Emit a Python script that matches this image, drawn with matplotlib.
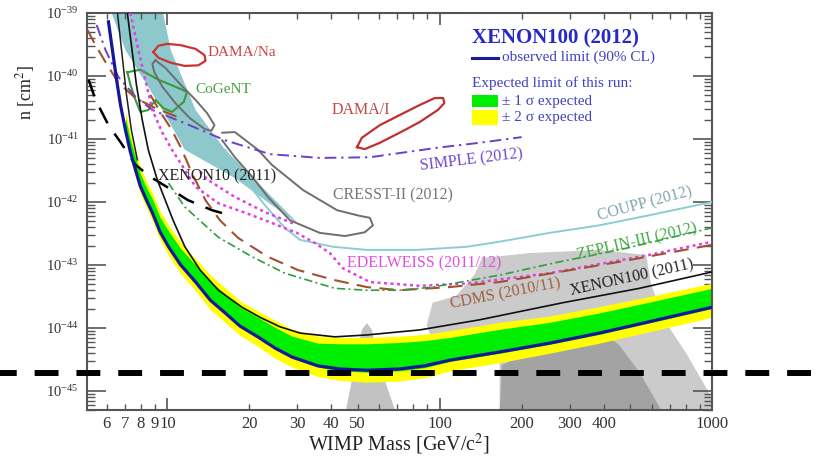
import numpy as np
import matplotlib
matplotlib.use("Agg")
import matplotlib.pyplot as plt
from matplotlib import ticker
from matplotlib.patches import Rectangle

plt.rcParams['font.family'] = ['Liberation Serif', 'DejaVu Serif']
plt.rcParams['mathtext.fontset'] = 'stix'

# ---------------- data (WIMP mass in GeV/c^2, log10 of cross-section in cm^2) ----------------
# XENON100 (2012) observed 90% CL limit
x12_mass = [6.08, 6.30, 6.51, 6.73, 7.02, 7.32, 7.64, 7.96, 8.38, 8.81, 9.42, 10.1, 11.2, 12.7, 14.4,
            16.3, 18.5, 21.5, 24.9, 28.7, 35.7, 43.0, 54.0, 71.3, 88.1, 109, 166, 253, 386, 588, 1000]
x12_logsig = [-39.14, -39.62, -40.06, -40.46, -40.86, -41.21, -41.49, -41.75, -41.97, -42.17, -42.48,
              -42.71, -43.00, -43.27, -43.56, -43.76, -43.97, -44.14, -44.32, -44.46, -44.60, -44.65,
              -44.67, -44.65, -44.60, -44.51, -44.38, -44.24, -44.08, -43.90, -43.67]

# expected sensitivity bands
band_mass = [7.02, 7.32, 7.64, 7.96, 8.38, 8.81, 9.42, 10.1, 11.2, 12.7, 14.4, 16.3, 18.5, 21.5,
             24.9, 28.7, 35.7, 43.0, 54.0, 71.3, 88.1, 109, 166, 253, 386, 588, 1000]
band_2sig_lo = [-40.98, -41.33, -41.61, -41.87, -42.09, -42.30, -42.61, -42.85, -43.14, -43.41, -43.71,
                -43.91, -44.12, -44.29, -44.48, -44.62, -44.77, -44.83, -44.86, -44.84, -44.79, -44.68,
                -44.55, -44.40, -44.24, -44.06, -43.83]
band_1sig_lo = [-40.88, -41.23, -41.51, -41.77, -41.99, -42.19, -42.50, -42.73, -43.02, -43.29, -43.58,
                -43.78, -43.99, -44.16, -44.34, -44.48, -44.62, -44.68, -44.70, -44.68, -44.63, -44.53,
                -44.40, -44.26, -44.10, -43.92, -43.69]
band_1sig_hi = [-40.66, -41.01, -41.29, -41.55, -41.77, -41.95, -42.25, -42.46, -42.74, -43.00, -43.26,
                -43.46, -43.67, -43.83, -43.99, -44.13, -44.24, -44.25, -44.25, -44.23, -44.20, -44.15,
                -44.02, -43.91, -43.76, -43.59, -43.37]
band_2sig_hi = [-40.56, -40.91, -41.19, -41.45, -41.67, -41.85, -42.15, -42.36, -42.64, -42.90, -43.16,
                -43.36, -43.57, -43.73, -43.88, -44.02, -44.13, -44.15, -44.15, -44.13, -44.10, -44.04,
                -43.91, -43.81, -43.66, -43.50, -43.29]

# XENON100 (2011)
x11_mass = [7.13, 7.38, 7.70, 8.09, 8.51, 9.19, 10.5, 11.6, 13.2, 15.4, 18.8, 21.9, 25.9, 30.7, 41.2,
            54.0, 84.5, 140, 282, 541, 1000]
x11_logsig = [-39.00, -39.51, -40.14, -40.70, -41.17, -41.65, -42.29, -42.71, -43.08, -43.40, -43.67,
              -43.83, -43.98, -44.08, -44.14, -44.11, -44.03, -43.87, -43.60, -43.37, -43.11]
# additional black low-mass curve
lowx_mass = [6.56, 6.79, 7.08, 7.38, 7.76]
lowx_logsig = [-39.00, -39.59, -40.30, -40.86, -41.33]

# XENON10 (2011)
x10_mass = [5.14, 5.45, 6.08, 6.73, 7.64, 8.66, 10.4, 11.9, 14.6, 17.3]
x10_logsig = [-40.06, -40.38, -40.78, -41.05, -41.41, -41.60, -41.81, -41.97, -42.13, -42.22]

# SIMPLE (2012)
simple_mass = [5.50, 5.93, 6.62, 7.64, 8.81, 11.6, 16.3, 23.8, 36.3, 55.4, 97.5, 140, 200]
simple_logsig = [-39.19, -39.59, -40.02, -40.33, -40.54, -40.75, -41.02, -41.24, -41.30, -41.29,
                 -41.14, -41.06, -40.97]

# EDELWEISS (2011/12)
edw_mass = [7.32, 7.76, 8.30, 8.81, 9.59, 10.4, 11.6, 12.7, 15.4, 19.3, 23.8, 29.9, 34.8, 39.5, 44.1,
            55.4, 84.5, 129, 253, 588, 1000]
edw_logsig = [-39.00, -39.51, -40.06, -40.54, -40.90, -41.17, -41.49, -41.76, -42.02, -42.17, -42.32,
              -42.49, -42.65, -42.81, -43.05, -43.27, -43.33, -43.29, -43.13, -42.84, -42.63]
edw_lm_mass = [13.2, 14.1, 17.7, 22.8, 29.4]
edw_lm_logsig = [-41.52, -41.65, -41.92, -42.16, -42.35]

# CDMS (2010/11)
cdms_le_mass = [5.09, 5.45, 5.93, 6.62, 7.64, 9.04, 11.2]
cdms_le_logsig = [-39.27, -39.51, -39.78, -40.11, -40.35, -40.51, -40.67]
cdms_mass = [8.66, 9.42, 10.3, 11.2, 12.4, 13.8, 15.6, 18.2, 23.4, 30.2, 41.2, 54.0, 71.3, 109, 166,
             275, 456, 1000]
cdms_logsig = [-40.30, -40.57, -40.83, -41.13, -41.57, -41.97, -42.29, -42.57, -42.87, -43.08, -43.24,
               -43.35, -43.40, -43.35, -43.27, -43.11, -42.95, -42.68]

# ZEPLIN-III (2012)
zep_mass = [10.1, 11.6, 15.4, 20.5, 27.0, 41.2, 54.0, 71.3, 94.2, 166, 275, 456, 1000]
zep_logsig = [-41.70, -42.08, -42.56, -42.87, -43.13, -43.37, -43.40, -43.40, -43.35, -43.16, -42.95,
              -42.76, -42.41]

# COUPP (2012)
coupp_mass = [16.3, 19.3, 22.8, 27.0, 30.7, 40.5, 54.0, 82.4, 126, 166, 253, 386, 588, 1000]
coupp_logsig = [-41.17, -41.65, -42.05, -42.41, -42.60, -42.71, -42.76, -42.76, -42.71, -42.63,
                -42.49, -42.37, -42.21, -42.00]

# teal shaded region
teal_mass = [6.18, 9.59, 10.3, 12.7, 16.3, 21.0, 30.7, 22.8, 17.7, 11.6, 9.59, 7.02]
teal_logsig = [-38.95, -38.95, -39.59, -40.54, -41.17, -41.65, -42.37, -41.97, -41.62, -41.17,
               -40.54, -39.59]

# DAMA/Na contour
damana_mass = [8.89, 9.27, 10.0, 11.2, 12.7, 13.7, 13.8, 13.0, 11.6, 10.3, 9.27]
damana_logsig = [-39.62, -39.52, -39.49, -39.51, -39.57, -39.67, -39.76, -39.83, -39.84, -39.79, -39.71]

# DAMA/I contour
damai_mass = [49.7, 51.8, 60.3, 71.3, 84.5, 95.9, 103, 104, 98.4, 84.5, 71.3, 60.3, 53.1]
damai_logsig = [-41.13, -40.98, -40.78, -40.62, -40.46, -40.35, -40.35, -40.43, -40.54, -40.73,
                -40.90, -41.06, -41.16]

# CoGeNT contour
cogent_mass = [7.13, 7.96, 9.27, 10.3, 11.8, 11.5, 10.4, 9.67, 9.04, 8.51, 7.96, 7.64, 7.32]
cogent_logsig = [-39.94, -39.90, -40.06, -40.14, -40.25, -40.41, -40.57, -40.51, -40.38, -40.54,
                 -40.57, -40.38, -40.14]

# CRESST-II (2012) contours
cresst1_mass = [9.04, 9.83, 11.2, 12.7, 14.0, 14.9, 14.5, 13.7, 12.1, 10.7, 9.59, 8.96, 8.81]
cresst1_logsig = [-39.75, -39.87, -40.14, -40.38, -40.59, -40.78, -40.87, -40.84, -40.67, -40.43,
                  -40.17, -39.94, -39.81]
cresst2_mass = [15.9, 17.7, 21.5, 24.2, 31.5, 42.0, 50.9, 55.4, 56.9, 53.1, 44.9, 36.3, 28.2, 23.4,
                20.5, 17.7, 15.9]
cresst2_logsig = [-40.90, -40.89, -41.17, -41.41, -41.81, -42.13, -42.22, -42.25, -42.37, -42.48,
                  -42.54, -42.49, -42.29, -41.92, -41.60, -41.29, -41.02]

# CMSSM expectation regions (gray)
cmssm_light_mass = [89.6, 94.2, 115, 134, 143, 214, 386, 573, 598, 679, 804, 1000, 1000, 166, 166, 100]
cmssm_light_logsig = [-43.95, -43.60, -43.49, -43.16, -42.89, -42.81, -42.76, -42.84, -43.32, -43.92,
                      -44.40, -45.11, -45.38, -45.38, -44.54, -44.54]
cmssm_dark_mass = [166, 169, 214, 386, 456, 541, 667]
cmssm_dark_logsig = [-45.38, -44.59, -44.38, -44.03, -44.27, -44.70, -45.38]
cmssm_spike_mass = [44.9, 47.6, 50.1, 51.8, 54.0, 56.4, 58.3, 62.9, 69.5]
cmssm_spike_logsig = [-45.38, -44.83, -44.35, -44.03, -43.92, -44.03, -44.35, -44.83, -45.38]

ref_sigma = 1.93e-45   # dashed reference level

y_decades = [1e-45, 1e-44, 1e-43, 1e-42, 1e-41, 1e-40, 1e-39]
x_labeled_minor = [6, 7, 8, 9, 20, 30, 40, 50, 200, 300, 400]


def S(a):
    return 10.0 ** np.asarray(a, dtype=float)


def closed(m, s):
    m = list(m) + [m[0]]
    s = list(s) + [s[0]]
    return m, S(s)


fig = plt.figure(figsize=(8.18, 4.62), dpi=100)
ax = fig.add_axes([87 / 818, 52 / 462, 625 / 818, 397 / 462])
ax.set_xscale('log')
ax.set_yscale('log')

# shaded regions
ax.fill(cmssm_light_mass, S(cmssm_light_logsig), color='#cbcbcb', lw=0, zorder=1)
ax.fill(cmssm_dark_mass, S(cmssm_dark_logsig), color='#a3a3a3', lw=0, zorder=1.1)
ax.fill(cmssm_spike_mass, S(cmssm_spike_logsig), color='#c2c2c2', lw=0, zorder=1)
ax.fill(teal_mass, S(teal_logsig), color='#8cc8cc', lw=0, zorder=1)

# expected bands
ax.fill_between(band_mass, S(band_2sig_lo), S(band_2sig_hi), color='#ffff00', lw=0, zorder=2)
ax.fill_between(band_mass, S(band_1sig_lo), S(band_1sig_hi), color='#00ee00', lw=0, zorder=2.1)

# contours
m, s = closed(damana_mass, damana_logsig)
ax.plot(m, s, color='#cc3333', lw=1.6, zorder=3)
m, s = closed(damai_mass, damai_logsig)
ax.plot(m, s, color='#c03030', lw=1.6, zorder=3)
m, s = closed(cogent_mass, cogent_logsig)
ax.plot(m, s, color='#3a9a3a', lw=1.5, zorder=3)
m, s = closed(cresst1_mass, cresst1_logsig)
ax.plot(m, s, color='#6e6e6e', lw=1.4, zorder=3)
ax.plot(cresst2_mass, S(cresst2_logsig), color='#6e6e6e', lw=1.4, zorder=3)

# exclusion curves
ax.plot(coupp_mass, S(coupp_logsig), color='#8ccdd1', lw=1.4, zorder=3)
ax.plot(simple_mass, S(simple_logsig), color='#6a40cc', lw=1.4, ls=(0, (6, 2.5, 1.2, 2.5)), zorder=3)
ax.plot(edw_mass, S(edw_logsig), color='#e040e0', lw=1.8, ls=(0, (1.2, 1.4)), zorder=3)
ax.plot(edw_lm_mass, S(edw_lm_logsig), color='#e040e0', lw=1.8, ls=(0, (1.2, 1.4)), zorder=3)
ax.plot(cdms_le_mass, S(cdms_le_logsig), color='#a0522d', lw=1.5, ls=(0, (7, 4)), zorder=3)
ax.plot(cdms_mass, S(cdms_logsig), color='#a0522d', lw=1.5, ls=(0, (7, 4)), zorder=3)
ax.plot(zep_mass, S(zep_logsig), color='#2e9e3e', lw=1.2, ls=(0, (5, 2, 1.2, 2)), zorder=3)
ax.plot(x10_mass, S(x10_logsig), color='black', lw=1.8, ls=(0, (7, 5)), zorder=3)
ax.plot(lowx_mass, S(lowx_logsig), color='#202020', lw=1.1, zorder=3)
ax.plot(x11_mass, S(x11_logsig), color='#111111', lw=1.2, zorder=3)
ax.plot(x12_mass, S(x12_logsig), color='#16169a', lw=2.3, zorder=4)

# labels
ax.text(14.1, S(-39.62), 'DAMA/Na', color='#cc4444', fontsize=11, ha='left', va='center', zorder=5)
ax.text(12.7, S(-40.22), 'CoGeNT', color='#44a044', fontsize=11, ha='left', va='center', zorder=5)
ax.text(51.4, S(-40.54), 'DAMA/I', color='#c04848', fontsize=11.5, ha='center', va='center', zorder=5)
ax.text(131, S(-41.33), 'SIMPLE (2012)', color='#7048d0', fontsize=11.5, ha='center', va='center',
        rotation=7, rotation_mode='anchor', zorder=5)
ax.text(67.3, S(-41.90), 'CRESST-II (2012)', color='#777777', fontsize=11.5, ha='center', va='center', zorder=5)
ax.text(15.2, S(-41.60), 'XENON10 (2011)', color='#222222', fontsize=11.5, ha='center', va='center', zorder=5)
ax.text(569, S(-42.03), 'COUPP (2012)', color='#7fa6ad', fontsize=11.5, ha='center', va='center',
        rotation=15, rotation_mode='anchor', zorder=5)
ax.text(531, S(-42.63), 'ZEPLIN-III (2012)', color='#44aa44', fontsize=11.5, ha='center', va='center',
        rotation=13, rotation_mode='anchor', zorder=5)
ax.text(88.1, S(-42.98), 'EDELWEISS (2011/12)', color='#e050e0', fontsize=11.5, ha='center', va='center', zorder=5)
ax.text(175, S(-43.46), 'CDMS (2010/11)', color='#a06040', fontsize=11.5, ha='center', va='center',
        rotation=11, rotation_mode='anchor', zorder=5)
ax.text(509, S(-43.21), 'XENON100 (2011)', color='#222222', fontsize=11.5, ha='center', va='center',
        rotation=12.5, rotation_mode='anchor', zorder=5)

# legend block
tr = ax.transAxes
ax.text(0.616, 0.937, 'XENON100 (2012)', transform=tr, fontsize=15, fontweight='bold',
        color='#2828c8', ha='left', va='center', zorder=6)
ax.plot([0.616, 0.658], [0.887, 0.887], transform=tr, color='#1a1a9a', lw=2.2, zorder=6)
ax.text(0.664, 0.889, 'observed limit (90% CL)', transform=tr, fontsize=11, color='#4040c0',
        ha='left', va='center', zorder=6)
ax.text(0.616, 0.824, 'Expected limit of this run:', transform=tr, fontsize=11, color='#4040c0',
        ha='left', va='center', zorder=6)
ax.add_patch(Rectangle((0.616, 0.763), 0.042, 0.031, transform=tr, color='#00ee00', lw=0, zorder=6))
ax.add_patch(Rectangle((0.616, 0.718), 0.042, 0.038, transform=tr, color='#ffff00', lw=0, zorder=6))
ax.text(0.664, 0.778, '± 1 σ expected', transform=tr, fontsize=11, color='#4040c0',
        ha='left', va='center', zorder=6)
ax.text(0.664, 0.738, '± 2 σ expected', transform=tr, fontsize=11, color='#4040c0',
        ha='left', va='center', zorder=6)

# thick dashed reference line across the whole figure
ax.axhline(ref_sigma, xmin=-0.139, xmax=1.17, color='black', lw=4.3, ls=(1.2, (4, 3)),
           clip_on=False, zorder=10)

# axes
ax.set_xlim(5.07, 1000)
ax.set_ylim(5.0e-46, 1e-39)

ax.xaxis.set_major_locator(ticker.LogLocator(base=10, numticks=20))
ax.xaxis.set_minor_locator(ticker.LogLocator(base=10, subs=np.arange(2, 10), numticks=20))
ax.xaxis.set_major_formatter(ticker.FuncFormatter(lambda v, p: f'{v:g}'))
ax.xaxis.set_minor_formatter(ticker.FuncFormatter(
    lambda v, p: f'{v:g}' if int(round(v)) in x_labeled_minor else ''))
ax.yaxis.set_major_locator(ticker.FixedLocator(y_decades))
ax.yaxis.set_major_formatter(ticker.LogFormatterSciNotation())
ax.yaxis.set_minor_locator(ticker.LogLocator(base=10, subs=np.arange(2, 10), numticks=20))
ax.yaxis.set_minor_formatter(ticker.NullFormatter())

ax.tick_params(axis='both', which='both', direction='in', top=True, right=True,
               colors='#555555', labelcolor='#333333')
ax.tick_params(axis='x', which='major', length=8.5, width=1.2, labelsize=12, pad=4)
ax.tick_params(axis='x', which='minor', length=4.5, width=1.0, labelsize=12, pad=4)
ax.tick_params(axis='y', which='major', length=14, width=1.2, labelsize=10.5, pad=6)
ax.tick_params(axis='y', which='minor', length=6, width=1.0)
for sp in ax.spines.values():
    sp.set_color('#555555')
    sp.set_linewidth(1.5)

ax.set_xlabel('WIMP Mass [GeV/c$^2$]', fontsize=14.5, color='#222222', labelpad=0)
ax.set_ylabel('n [cm$^2$]', fontsize=13, color='#222222')
ax.yaxis.set_label_coords(-0.08, 0.80)

fig.savefig('out.png', dpi=100)
